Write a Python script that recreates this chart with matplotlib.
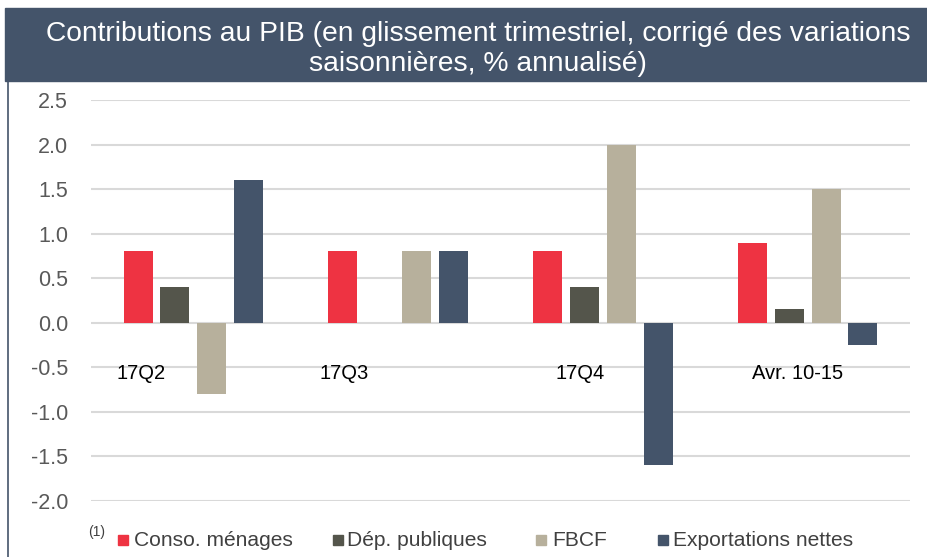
import numpy as np
import matplotlib.pyplot as plt
from matplotlib.patches import Rectangle

plt.rcParams['font.family'] = ['Liberation Sans', 'DejaVu Sans']

categories = ['17Q2', '17Q3', '17Q4', 'Avr. 10-15']
series = ['Conso. ménages', 'Dép. publiques', 'FBCF', 'Exportations nettes']
conso = [0.8, 0.8, 0.8, 0.9]
dep_pub = [0.4, 0.0, 0.4, 0.15]
fbcf = [-0.8, 0.8, 2.0, 1.5]
export_nettes = [1.6, 0.8, -1.6, -0.25]
yticks = [2.5, 2.0, 1.5, 1.0, 0.5, 0.0, -0.5, -1.0, -1.5, -2.0]

colors = ['#ee3342', '#54554b', '#b7b09c', '#44546a']
label_x = [-0.256, 0.736, 1.888, 2.953]   # where the category names sit

W, H = 928, 557
fig = plt.figure(figsize=(W / 100, H / 100), dpi=100)

# title band and left frame line
fig.patches.append(Rectangle((5 / W, 1 - 81 / H), 1 - 5 / W, 73 / H,
                             transform=fig.transFigure, color='#44546a', zorder=0))
fig.add_artist(plt.Line2D([8 / W, 8 / W], [0, 1 - 81 / H], transform=fig.transFigure,
                          color='#44546a', lw=1.2))
fig.text(478 / W, 1 - 49 / H,
         'Contributions au PIB (en glissement trimestriel, corrigé des variations\n'
         'saisonnières, % annualisé)',
         ha='center', va='center', color='white', fontsize=20.3, linespacing=1.17)

ax = fig.add_axes([91 / W, (H - 501) / H, (910 - 91) / W, 401 / H])
x = np.arange(len(categories))
pitch, width = 0.18, 0.142
for i, vals in enumerate([conso, dep_pub, fbcf, export_nettes]):
    ax.bar(x + (i - 1.5) * pitch, vals, width, color=colors[i], zorder=3)

ax.set_xlim(-0.5, len(categories) - 0.5)
ax.set_ylim(-2.0, 2.5)
ax.set_yticks(yticks)
ax.set_yticklabels([f'{v:.1f}' for v in yticks])
ax.set_xticks([])
ax.grid(axis='y', color='#d9d9d9', lw=1.5, zorder=0)
for s in ax.spines.values():
    s.set_visible(False)
ax.tick_params(axis='y', length=0, pad=16.5, labelsize=15.5, labelcolor='#595959')

for cx, name in zip(label_x, categories):
    ax.text(cx, -0.57, name, ha='center', va='center', fontsize=14.5, color='black', zorder=4)

# legend row
ly = 1 - 540 / H
fig.text(88 / W, 1 - 532 / H, '(1)', fontsize=10, color='#404040', va='center')
leg_x = [118, 333, 536, 658]
gaps = [6, 4, 6, 5]
for lx, g, name, c in zip(leg_x, gaps, series, colors):
    fig.patches.append(Rectangle((lx / W, ly - 5 / H), 10 / W, 10 / H,
                                 transform=fig.transFigure, color=c))
    fig.text((lx + 10 + g) / W, ly, name, fontsize=15.1, color='#404040', va='center')

fig.savefig('out.png', dpi=100)
